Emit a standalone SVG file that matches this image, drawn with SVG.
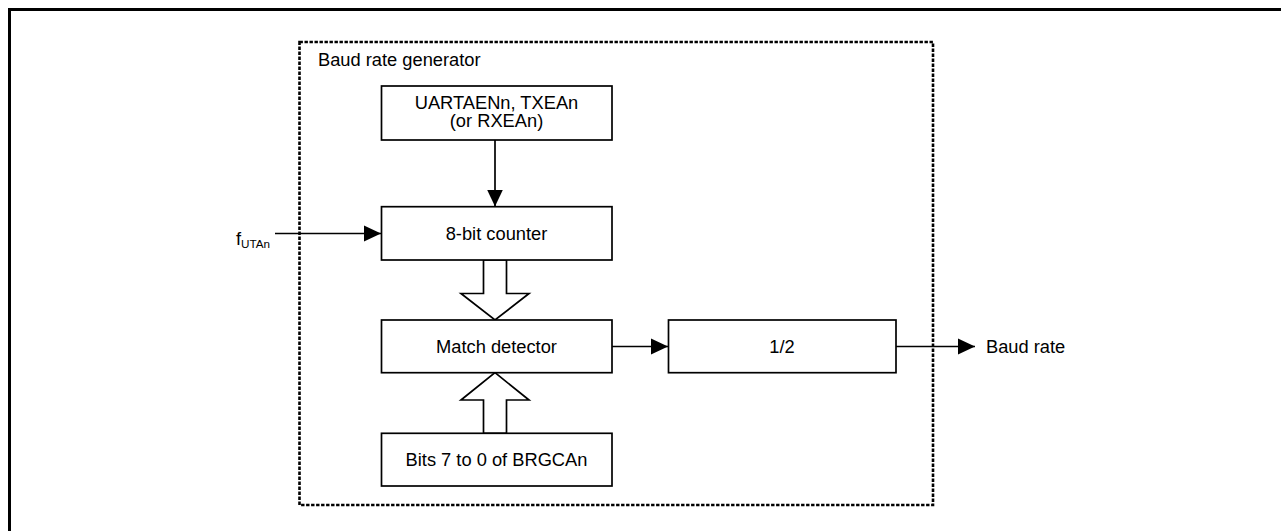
<svg xmlns="http://www.w3.org/2000/svg" width="1281" height="531" viewBox="0 0 1281 531">
<style>
text{font-family:"Liberation Sans",Arial,sans-serif;font-size:18.3px;fill:#000}
.c{text-anchor:middle}
.box{fill:#fff;stroke:#000;stroke-width:1.7}
.ln{fill:none;stroke:#000;stroke-width:1.7}
.hol{fill:#fff;stroke:#000;stroke-width:1.7;stroke-linejoin:miter}
</style>
<defs>
<marker id="ah" markerUnits="userSpaceOnUse" markerWidth="18" markerHeight="18" viewBox="0 0 18 18" refX="17" refY="9" orient="auto">
<path d="M0,1 L17,9 L0,17 Z" fill="#000"/>
</marker>
</defs>
<rect x="9.5" y="9.5" width="1290" height="540" fill="none" stroke="#000" stroke-width="3"/>
<g id="brg">
<rect x="299.5" y="42" width="633.5" height="463" fill="none" stroke="#000" stroke-width="2.6" stroke-dasharray="3.4 1.6"/>
<text x="318" y="65.5">Baud rate generator</text>
</g>
<g id="connectors">
<line class="ln" x1="495" y1="140" x2="495" y2="206.5" marker-end="url(#ah)"/>
<line class="ln" x1="275" y1="233.5" x2="381" y2="233.5" marker-end="url(#ah)"/>
<line class="ln" x1="612" y1="346.5" x2="668" y2="346.5" marker-end="url(#ah)"/>
<line class="ln" x1="896" y1="346.5" x2="975" y2="346.5" marker-end="url(#ah)"/>
<polygon class="hol" points="483.5,260 506.5,260 506.5,293.5 529,293.5 495,320 461,293.5 483.5,293.5"/>
<polygon class="hol" points="483.5,433.3 506.5,433.3 506.5,400 529,400 495,372.7 461,400 483.5,400"/>
</g>
<g id="uart">
<rect class="box" x="381.5" y="86" width="230.5" height="54"/>
<text class="c" x="496.5" y="108.5">UARTAENn, TXEAn</text>
<text class="c" x="496.5" y="127">(or RXEAn)</text>
</g>
<g id="counter">
<rect class="box" x="381.5" y="206.7" width="230.5" height="53.3"/>
<text class="c" x="496.5" y="240">8-bit counter</text>
</g>
<g id="match">
<rect class="box" x="381.5" y="320" width="230.5" height="52.7"/>
<text class="c" x="496.5" y="353">Match detector</text>
</g>
<g id="bits">
<rect class="box" x="381.5" y="433.3" width="230.5" height="52.7"/>
<text class="c" x="496.5" y="466">Bits 7 to 0 of BRGCAn</text>
</g>
<g id="half">
<rect class="box" x="668.5" y="320" width="227.5" height="52.7"/>
<text class="c" x="782" y="353">1/2</text>
</g>
<g id="futan">
<text x="236" y="244.5">f<tspan font-size="11.7" dy="3">UTAn</tspan></text>
</g>
<g id="baud">
<text x="986" y="353">Baud rate</text>
</g>
</svg>
